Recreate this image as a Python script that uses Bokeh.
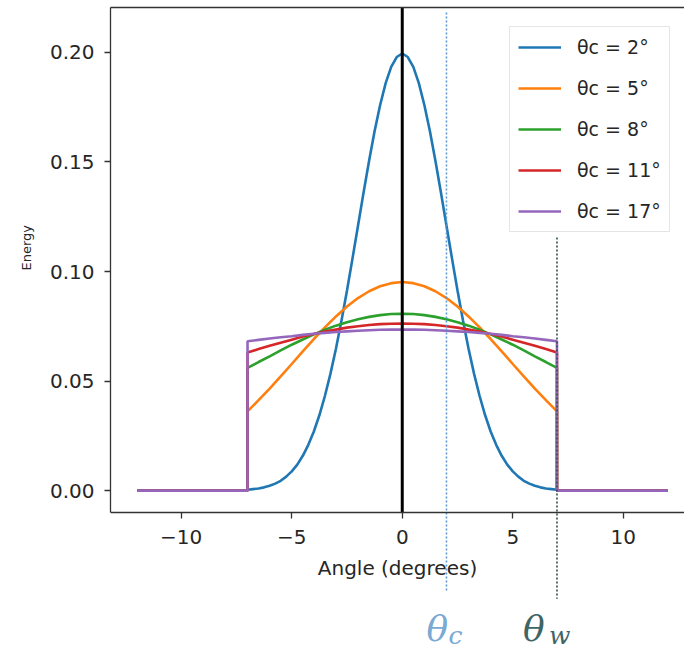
from bokeh.plotting import figure
from bokeh.models import (Range1d, FixedTicker, NumeralTickFormatter, Title,
                          Label, Legend, LegendItem, LinearAxis)
from bokeh.embed import file_html
from bokeh.resources import INLINE

# ---------------- data ----------------
angles = [-7.0, -6.5, -6.0, -5.5, -5.0, -4.5, -4.0, -3.5, -3.0, -2.5, -2.0, -1.5, -1.0, -0.5,
          0.0, 0.5, 1.0, 1.5, 2.0, 2.5, 3.0, 3.5, 4.0, 4.5, 5.0, 5.5, 6.0, 6.5, 7.0]
angles_fine = [-7.0, -6.75, -6.5, -6.25, -6.0, -5.75, -5.5, -5.25, -5.0, -4.75, -4.5, -4.25,
               -4.0, -3.75, -3.5, -3.25, -3.0, -2.75, -2.5, -2.25, -2.0, -1.75, -1.5, -1.25,
               -1.0, -0.75, -0.5, -0.25, 0.0, 0.25, 0.5, 0.75, 1.0, 1.25, 1.5, 1.75, 2.0,
               2.25, 2.5, 2.75, 3.0, 3.25, 3.5, 3.75, 4.0, 4.25, 4.5, 4.75, 5.0, 5.25, 5.5,
               5.75, 6.0, 6.25, 6.5, 6.75, 7.0]
tail_left = [-12.0, -7.0]
tail_right = [7.0, 12.0]
tail_energy = [0.0, 0.0]

theta_c_values = [2, 5, 8, 11, 17]

energy_c2 = [0.0004, 0.0007, 0.0010, 0.0015, 0.0022, 0.0032, 0.0045, 0.0064, 0.0088, 0.0119,
             0.0159, 0.0209, 0.0270, 0.0344, 0.0432, 0.0533, 0.0648, 0.0775, 0.0913, 0.1060,
             0.1210, 0.1361, 0.1506, 0.1641, 0.1760, 0.1860, 0.1934, 0.1979, 0.1995, 0.1979,
             0.1934, 0.1860, 0.1760, 0.1641, 0.1506, 0.1361, 0.1210, 0.1060, 0.0913, 0.0775,
             0.0648, 0.0533, 0.0432, 0.0344, 0.0270, 0.0209, 0.0159, 0.0119, 0.0088, 0.0064,
             0.0045, 0.0032, 0.0022, 0.0015, 0.0010, 0.0007, 0.0004]
energy_c5 = [0.0362, 0.0413, 0.0466, 0.0522, 0.0578, 0.0636, 0.0692, 0.0745, 0.0795, 0.0840,
             0.0879, 0.0910, 0.0933, 0.0947, 0.0952, 0.0947, 0.0933, 0.0910, 0.0879, 0.0840,
             0.0795, 0.0745, 0.0692, 0.0636, 0.0578, 0.0522, 0.0466, 0.0413, 0.0362]
energy_c8 = [0.0560, 0.0587, 0.0613, 0.0640, 0.0666, 0.0690, 0.0713, 0.0734, 0.0753, 0.0769,
             0.0782, 0.0793, 0.0801, 0.0806, 0.0807, 0.0806, 0.0801, 0.0793, 0.0782, 0.0769,
             0.0753, 0.0734, 0.0713, 0.0690, 0.0666, 0.0640, 0.0613, 0.0587, 0.0560]
energy_c11 = [0.0630, 0.0646, 0.0661, 0.0675, 0.0689, 0.0703, 0.0715, 0.0726, 0.0735, 0.0744,
              0.0750, 0.0756, 0.0760, 0.0762, 0.0763, 0.0762, 0.0760, 0.0756, 0.0750, 0.0744,
              0.0735, 0.0726, 0.0715, 0.0703, 0.0689, 0.0675, 0.0661, 0.0646, 0.0630]
energy_c17 = [0.0682, 0.0688, 0.0694, 0.0700, 0.0705, 0.0711, 0.0716, 0.0720, 0.0724, 0.0727,
              0.0730, 0.0732, 0.0734, 0.0735, 0.0735, 0.0735, 0.0734, 0.0732, 0.0730, 0.0727,
              0.0724, 0.0720, 0.0716, 0.0711, 0.0705, 0.0700, 0.0694, 0.0688, 0.0682]

series_angles = [angles_fine, angles, angles, angles, angles]
series_energy = [energy_c2, energy_c5, energy_c8, energy_c11, energy_c17]
series_colors = ["#1f77b4", "#ff7f0e", "#2ca02c", "#d62728", "#9467bd"]

x_ticks = [-10, -5, 0, 5, 10]
x_tick_labels = ["\u221210", "\u22125", "0", "5", "10"]
y_ticks = [0.0, 0.05, 0.10, 0.15, 0.20]

y_bottom, y_top = -0.010, 0.2205          # visible axes box
center_angle = 0        # black vertical line
marker_theta_c = 2      # dotted blue line
marker_theta_w = 7      # dotted dark line
theta_c_line_span = [0.2182, -0.0456]
theta_w_line_span = [0.1155, -0.0493]

FONT = "DejaVu Sans"
SERIF = "DejaVu Serif"
TXT = "#262626"

# ---------------- figure ----------------
# the frame reaches down to the page bottom so the dotted markers and their
# labels can continue below the x axis, which is pinned at y_bottom
p = figure(width=684, height=649,
           x_range=Range1d(-13.2, 12.77), y_range=Range1d(-0.0725, y_top),
           output_backend="svg", toolbar_location=None,
           min_border_left=110, min_border_right=0, min_border_top=7,
           min_border_bottom=0)
p.grid.visible = False
p.outline_line_color = None
p.background_fill_color = "white"
p.border_fill_color = "white"

renderers = []
for xs_body, energy, color in zip(series_angles, series_energy, series_colors):
    xs = tail_left + xs_body + tail_right
    ys = tail_energy + energy + tail_energy
    r = p.line(xs, ys, line_color=color, line_width=2.6)
    renderers.append(r)

# reference lines
p.segment(x0=[center_angle], y0=[y_bottom], x1=[center_angle], y1=[y_top],
          line_color="black", line_width=3)
p.segment(x0=[marker_theta_c], y0=[theta_c_line_span[0]], x1=[marker_theta_c],
          y1=[theta_c_line_span[1]], line_color="#5b9bd5", line_width=1.6, line_dash="2 2")
p.segment(x0=[marker_theta_w], y0=[theta_w_line_span[0]], x1=[marker_theta_w],
          y1=[theta_w_line_span[1]], line_color="#2f4f4f", line_width=1.6, line_dash="2 2")

# axes styling
for ax in (p.xaxis[0], p.yaxis[0]):
    ax.axis_line_color = "#333333"
    ax.axis_line_width = 1.3
    ax.major_tick_line_color = "#333333"
    ax.major_tick_line_width = 1.3
    ax.major_tick_out = 6
    ax.major_tick_in = 0
    ax.minor_tick_line_color = None
    ax.major_label_text_font = FONT
    ax.major_label_text_font_size = "20px"
    ax.major_label_text_color = TXT
    ax.axis_label_text_font = FONT
    ax.axis_label_text_font_style = "normal"
    ax.axis_label_text_color = TXT

p.xaxis.fixed_location = y_bottom
p.xaxis.ticker = FixedTicker(ticks=x_ticks)
p.xaxis.major_label_overrides = dict(zip(x_ticks, x_tick_labels))
p.xaxis.major_label_standoff = 11
p.xaxis.axis_label = "Angle (degrees)"
p.xaxis.axis_label_text_font_size = "20px"
p.xaxis.axis_label_standoff = 9

p.yaxis.bounds = (y_bottom, y_top)
p.yaxis.ticker = FixedTicker(ticks=y_ticks)
p.yaxis.formatter = NumeralTickFormatter(format="0.00")
p.yaxis.major_label_standoff = 10

# y label as a side title so it can sit beside the visible axes box
p.add_layout(Title(text="Energy", align="left", offset=379, standoff=25,
                   text_font=FONT, text_font_size="13px", text_font_style="normal",
                   text_color=TXT), "left")

top_axis = LinearAxis(ticker=FixedTicker(ticks=[]), major_label_text_font_size="0px",
                      major_tick_line_color=None, minor_tick_line_color=None,
                      axis_line_color="#333333", axis_line_width=1.3)
p.add_layout(top_axis, "above")

# theta labels below the axis
p.add_layout(Label(x=marker_theta_c, y=-0.063, x_offset=-20, text="\u03b8",
                   text_font=SERIF, text_font_style="italic", text_font_size="36px",
                   text_color="#7aa9d4", text_baseline="alphabetic", text_align="left"))
p.add_layout(Label(x=marker_theta_c, y=-0.0662, x_offset=2, text="c",
                   text_font=SERIF, text_font_style="italic", text_font_size="25px",
                   text_color="#7aa9d4", text_baseline="alphabetic", text_align="left"))
p.add_layout(Label(x=marker_theta_w, y=-0.063, x_offset=-34, text="\u03b8",
                   text_font=SERIF, text_font_style="italic", text_font_size="36px",
                   text_color="#3e6464", text_baseline="alphabetic", text_align="left"))
p.add_layout(Label(x=marker_theta_w, y=-0.0662, x_offset=-8, text="w",
                   text_font=SERIF, text_font_style="italic", text_font_size="25px",
                   text_color="#3e6464", text_baseline="alphabetic", text_align="left"))

# legend
items = [LegendItem(label=f"\u03b8c = {v}\u00b0", renderers=[r])
         for v, r in zip(theta_c_values, renderers)]
legend = Legend(items=items, location=(399, 417))
legend.glyph_width = 43
legend.glyph_height = 24
legend.label_height = 24
legend.label_standoff = 16
legend.spacing = 17
legend.padding = 8
legend.margin = 0
legend.label_text_font = FONT
legend.label_text_font_size = "19px"
legend.label_text_color = TXT
legend.border_line_color = "#cccccc"
legend.border_line_width = 1
legend.background_fill_alpha = 0.9
p.add_layout(legend)

open("out.html", "w").write(file_html(p, INLINE))
